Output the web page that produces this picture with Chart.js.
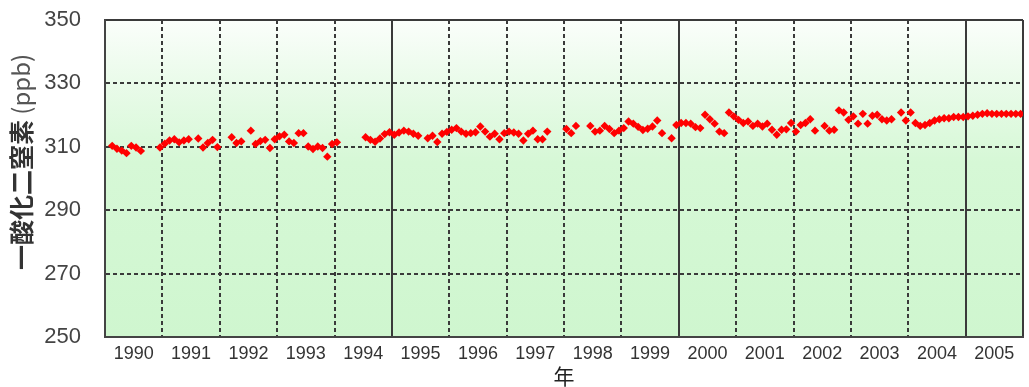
<!DOCTYPE html>
<html>
<head>
<meta charset="utf-8">
<script src="https://cdn.jsdelivr.net/npm/chart.js@4/dist/chart.umd.min.js"></script>
<style>
  html, body { margin: 0; padding: 0; background: #fff; }
  #wrap { width: 1029px; height: 387px; }
</style>
</head>
<body>
<div id="wrap"><canvas id="c" width="1029" height="387"></canvas></div>
<script>
// Year labels along the bottom axis
const years = ['1990','1991','1992','1993','1994','1995','1996','1997',
               '1998','1999','2000','2001','2002','2003','2004','2005'];

// Monthly mean N2O concentration (ppb), Jan..Dec for each year; null = no measurement
const n2o1990 = [null, 310.3, 309.4, 308.8, 308.0, 310.3, 309.8, 308.7, null, null, null, 309.8];
const n2o1991 = [311.0, 312.0, 312.4, 311.4, 312.0, 312.4, null, 312.6, 309.8, 311.2, 312.2, 309.9];
const n2o1992 = [null, null, 313.0, 311.2, 311.7, null, 315.1, 310.9, 311.8, 312.2, 309.6, 312.4];
const n2o1993 = [313.3, 313.8, 311.7, 311.2, 314.3, 314.3, 310.1, 309.3, 310.1, 309.6, 306.9, 310.9];
const n2o1994 = [311.4, null, null, null, null, null, 313.0, 312.2, 311.6, 312.6, 314.0, 314.6];
const n2o1995 = [313.8, 314.5, 315.1, 314.8, 314.1, 313.5, null, 312.7, 313.5, 311.5, 314.1, 314.7];
const n2o1996 = [315.4, 315.9, 314.8, 314.1, 314.3, 314.6, 316.4, 314.8, 313.2, 314.1, 312.4, 314.3];
const n2o1997 = [314.8, 314.5, 314.1, 312.0, 314.1, 315.1, 312.4, 312.4, 314.8, null, null, null];
const n2o1998 = [315.6, 314.3, 316.6, null, null, 316.6, 314.8, 315.1, 316.6, 315.6, 314.3, 315.1];
const n2o1999 = [315.9, 318.0, 317.3, 316.3, 315.3, 315.7, 316.4, 318.3, 314.3, null, 312.7, 316.9];
const n2o2000 = [317.5, 317.5, 317.3, 316.2, 315.9, 320.1, 318.7, 317.3, 314.8, 314.3, 320.8, 319.6];
const n2o2001 = [318.5, 317.5, 318.0, 316.6, 317.3, 316.4, 317.3, 315.4, 313.8, 315.4, 315.5, 317.5];
const n2o2002 = [314.8, 316.9, 317.5, 318.7, 315.1, null, 316.6, 315.1, 315.4, 321.5, 320.8, 318.5];
const n2o2003 = [319.6, 317.3, 320.4, 317.3, 319.8, 320.1, 318.7, 318.3, 318.7, null, 320.8, 318.3];
const n2o2004 = [320.8, 317.5, 316.6, 316.9, 317.5, 318.3, 318.7, 319.0, 319.0, 319.4, 319.4, 319.4];
const n2o2005 = [319.6, 319.8, 320.1, 320.4, 320.6, 320.4, 320.4, 320.4, 320.4, 320.4, 320.4, 320.4];

const yearlySeries = [n2o1990, n2o1991, n2o1992, n2o1993, n2o1994, n2o1995, n2o1996, n2o1997,
                      n2o1998, n2o1999, n2o2000, n2o2001, n2o2002, n2o2003, n2o2004, n2o2005];

// Month index on the x axis: each month sits in the middle of its slot
const points = [];
yearlySeries.forEach((vals, yi) => {
  vals.forEach((v, mi) => {
    if (v !== null) points.push({ x: yi * 12 + mi + 0.5, y: v });
  });
});

const GRID = '#3a3a3a';
const CLEAR = 'rgba(0,0,0,0)';

// Soft white-to-green wash behind the plot
const plotBackground = {
  id: 'plotBackground',
  beforeDraw(chart) {
    const { ctx, chartArea: a } = chart;
    ctx.save();
    ctx.fillStyle = '#ffffff';
    ctx.fillRect(0, 0, chart.width, chart.height);
    const g = ctx.createLinearGradient(0, a.top, 0, a.bottom);
    g.addColorStop(0, '#fbfefb');
    g.addColorStop(0.18, '#ebfbeb');
    g.addColorStop(0.45, '#d6f8d6');
    g.addColorStop(1, '#cff6cf');
    ctx.fillStyle = g;
    ctx.fillRect(a.left, a.top, a.right - a.left, a.bottom - a.top);
    ctx.restore();
  }
};

// Vertical axis caption: substance name followed by the unit
const yCaption = {
  id: 'yCaption',
  afterDraw(chart) {
    const { ctx } = chart;
    const main = '一酸化二窒素';
    const unit = ' (ppb)';
    ctx.save();
    ctx.translate(21, 162);
    ctx.rotate(-Math.PI / 2);
    ctx.textBaseline = 'middle';
    const fMain = 'bold 25px "Noto Sans CJK JP", sans-serif';
    const fUnit = '24px "Noto Sans CJK JP", sans-serif';
    ctx.font = fMain; const w1 = ctx.measureText(main).width;
    ctx.font = fUnit; const w2 = ctx.measureText(unit).width;
    let x = -(w1 + w2) / 2;
    ctx.textAlign = 'left';
    ctx.font = fMain; ctx.fillStyle = '#333';
    ctx.fillText(main, x, 0);
    ctx.font = fUnit; ctx.fillStyle = '#555';
    ctx.fillText(unit, x + w1, 0);
    ctx.restore();
  }
};

new Chart(document.getElementById('c'), {
  type: 'scatter',
  data: {
    datasets: [{
      data: points,
      pointStyle: 'rectRot',
      pointRadius: 4.2,
      pointHoverRadius: 4.2,
      backgroundColor: '#ff0000',
      borderWidth: 0,
      showLine: false
    }]
  },
  options: {
    responsive: false,
    animation: false,
    events: [],
    layout: { padding: { left: 0, right: 2, top: 20, bottom: 0 } },
    plugins: { legend: { display: false }, tooltip: { enabled: false } },
    scales: {
      x: {
        type: 'linear',
        min: 0,
        max: years.length * 12,
        afterBuildTicks(scale) {
          const t = [];
          for (let v = 0; v <= years.length * 12; v += 6) t.push({ value: v });
          scale.ticks = t;
        },
        afterFit(scale) { scale.height = 50; },
        grid: {
          drawTicks: false,
          lineWidth: 2,
          color: (c) => (c.tick && c.tick.value % 12 === 0) ? GRID : CLEAR
        },
        border: {
          display: true,
          color: '#444',
          width: 2,
          dash: (c) => {
            const v = c.tick ? c.tick.value : 0;
            return (v % 60 === 0 || v === years.length * 12) ? [] : [4, 3];
          }
        },
        ticks: {
          autoSkip: false,
          maxRotation: 0,
          padding: 6,
          color: '#333',
          font: { family: '"Liberation Sans", Arial, sans-serif', size: 18 },
          callback: (v) => (v % 12 === 6) ? years[(v - 6) / 12] : ''
        },
        title: {
          display: true,
          text: '年',
          color: '#222',
          padding: { top: 0, bottom: 0 },
          font: { family: '"Noto Sans CJK JP", sans-serif', size: 21, lineHeight: 1.0 }
        }
      },
      y: {
        min: 250,
        max: 350,
        afterBuildTicks(scale) {
          scale.ticks = [250, 270, 290, 310, 330, 350].map(v => ({ value: v }));
        },
        afterFit(scale) { scale.width = 105; },
        grid: {
          drawTicks: true,
          tickLength: 24,
          tickColor: CLEAR,
          lineWidth: 2,
          color: (c) => (c.tick && c.tick.value === 250) ? CLEAR : GRID
        },
        border: {
          display: true,
          color: '#444',
          width: 2,
          dash: (c) => (c.tick && c.tick.value === 350) ? [] : [4, 3]
        },
        ticks: {
          padding: 0,
          color: '#444',
          font: { family: '"Liberation Sans", Arial, sans-serif', size: 22 }
        }
      }
    }
  },
  plugins: [plotBackground, yCaption]
});
</script>
</body>
</html>
